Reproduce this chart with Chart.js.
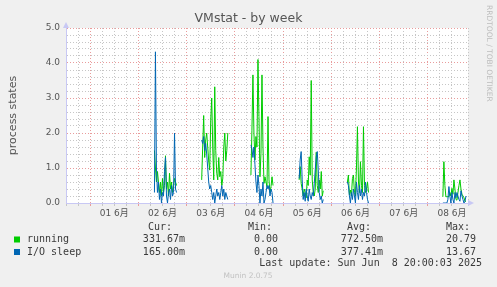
<!DOCTYPE html>
<html>
<head>
<meta charset="utf-8">
<script src="https://cdn.jsdelivr.net/npm/chart.js@4/dist/chart.umd.min.js"></script>
<style>
  html, body { margin: 0; padding: 0; background: #f0f0f0; }
  canvas { display: block; }
</style>
</head>
<body>
<canvas id="chart" width="497" height="287"></canvas>
<script>
// ── DATA ──
// x axis runs in hours counted from 31 May 00:00, one sample every 30 min
const dayLabels = ['01 6月', '02 6月', '03 6月', '04 6月', '05 6月', '06 6月', '07 6月', '08 6月'];
const yLabels = ['0.0', '1.0', '2.0', '3.0', '4.0', '5.0'];
const sampleStep = 0.5;
const burstStart = [56, 79.5, 104, 128, 152, 199.5];

const running = [
  [1.5, 1.0, 0.6, 0.9, 0.6, 0.3, 0.6, 0.2, 0.7, 0.3, 0.5, 1.35, 0.4, 0.6, 0.2, 0.85, 0.4, 0.6, 0.3, 0.5, 0.7, 0.6, 0.5],
  [0.66, 1.6, 2.5, 1.3, 1.8, 2.0, 1.6, 1.2, 0.94, 2.37, 3.0, 1.6, 0.66, 3.32, 1.5, 0.85, 0.66, 1.3, 0.75, 0.9, 0.5, 0.7, 1.6, 2.0, 1.2, 1.5, 2.0],
  [0.8, 2.08, 3.66, 2.0, 1.23, 1.9, 1.6, 4.1, 2.47, 0.75, 1.42, 3.66, 1.6, 0.56, 0.75, 0.6, 0.47, 2.47, 0.66, 0.3, 0.47, 0.75, 0.5],
  [0.66, 1.04, 0.56, 0.4, 0.2, 0.4, 0.3, 0.15, 0.66, 0.5, 1.32, 0.8, 3.5, 0.66, 0.3, 0.2, 0.4, 1.45, 0.5, 0.3, 0.66, 0.4, 0.9, 0.2, 0.35],
  [0.6, 0.8, 0.23, 0.37, 0.2, 0.7, 0.8, 0.3, 0.2, 1.0, 2.18, 0.6, 0.3, 1.18, 0.5, 0.3, 2.18, 0.5, 0.3, 0.4, 0.6, 0.3],
  [0.18, 1.18, 0.5, 0.18, 0.18, 0.18, 0.18, 0.3, 0.2, 0.42, 0.25, 0.66, 0.4, 0.1, 0.08, 0.3, 0.5, 0.66, 0.4, 0.25, 0.2, 0.15, 0.05, 0.05]
];
const ioSleep = [
  [0.3, 4.32, 1.0, 0.3, 0.6, 0.1, 0.4, 0.0, 0.3, 0.2, 0.9, 1.3, 0.2, 0.0, 0.3, 0.4, 0.1, 0.5, 0.2, 0.3, 2.0, 0.4, 0.3],
  [1.8, 1.7, 1.9, 1.5, 1.7, 1.4, 1.0, 0.6, 0.4, 0.5, 0.3, 0.1, 0.3, 0.0, 0.2, 0.4, 0.2, 0.3, 0.1, 0.3, 0.5, 0.2, 0.4, 0.1, 0.3, 0.2, 0.1],
  [1.66, 1.55, 1.3, 1.6, 1.1, 0.6, 0.3, 0.8, 0.5, 0.0, 0.4, 0.2, 0.6, 0.0, 0.1, 0.3, 0.5, 0.4, 0.5, 0.2, 0.4, 0.3, 0.0],
  [0.7, 1.23, 1.47, 0.68, 0.1, 0.3, 0.05, 0.4, 0.2, 0.05, 0.4, 0.2, 0.1, 0.3, 0.2, 0.55, 0.95, 1.32, 1.47, 0.95, 0.3, 0.1, 0.2, 0.0, 0.1],
  [0.6, 0.5, 0.2, 0.0, 0.3, 0.1, 0.4, 0.2, 0.0, 0.6, 0.3, 0.1, 0.5, 0.2, 0.4, 0.1, 0.3, 0.2, 0.6, 0.3, 0.1, 0.0],
  [0.0, 0.0, 0.0, 0.0, 0.0, 0.1, 0.47, 0.2, 0.0, 0.3, 0.1, 0.0, 0.3, 0.15, 0.3, 0.2, 0.1, 0.05, 0.35, 0.2, 0.1, 0.0, 0.05, 0.2]
];

// legend table
const chartTitle = 'VMstat - by week';
const seriesNames = ['running', 'I/O sleep'];
const seriesColors = ['#00cc00', '#0066b3'];
const curValues = ['331.67m', '165.00m'];
const minValues = ['0.00', '0.00'];
const avgValues = ['772.50m', '377.41m'];
const maxValues = ['20.79', '13.67'];
const lastUpdate = 'Last update: Sun Jun  8 20:00:03 2025';

// ── HELPERS ──
function toPoints(bursts) {
  const pts = [];
  bursts.forEach((vals, b) => {
    vals.forEach((v, i) => pts.push({ x: burstStart[b] + i * sampleStep, y: v }));
    pts.push({ x: burstStart[b] + vals.length * sampleStep, y: null }); // gap
  });
  return pts;
}

const SANS = '"DejaVu Sans", "Noto Sans CJK JP", sans-serif';
const MONO = '"DejaVu Sans Mono", monospace';
const RED_GRID = '#e99c9c';
const GRAY_GRID = '#c6c6c6';
const AXIS = '#c8c8f4';

// ── PLUGINS ──
const muninFrame = {
  id: 'muninFrame',
  beforeDraw(chart) {
    const { ctx, chartArea: a } = chart;
    ctx.save();
    ctx.fillStyle = '#f0f0f0';
    ctx.fillRect(0, 0, chart.width, chart.height);
    ctx.fillStyle = '#ffffff';
    ctx.fillRect(a.left, a.top, a.right - a.left, a.bottom - a.top);
    ctx.restore();
  },
  afterDraw(chart) {
    const { ctx, chartArea: a } = chart;
    ctx.save();
    // title, centred on the whole image
    ctx.font = '12.5px ' + SANS;
    ctx.fillStyle = '#555';
    ctx.textAlign = 'center';
    ctx.textBaseline = 'middle';
    ctx.fillText(chartTitle, 248.5, 19);

    // axis arrows
    ctx.fillStyle = AXIS;
    ctx.beginPath();
    ctx.moveTo(a.left - 3, a.top); ctx.lineTo(a.left + 3, a.top); ctx.lineTo(a.left, a.top - 6);
    ctx.fill();
    ctx.beginPath();
    ctx.moveTo(a.right, a.bottom - 3); ctx.lineTo(a.right, a.bottom + 3); ctx.lineTo(a.right + 6, a.bottom);
    ctx.fill();

    // side watermark
    ctx.save();
    ctx.translate(489, 5);
    ctx.rotate(Math.PI / 2);
    ctx.font = '7.5px ' + SANS;
    ctx.fillStyle = '#bdbdbd';
    ctx.textAlign = 'left';
    ctx.fillText('RRDTOOL / TOBI OETIKER', 0, 0);
    ctx.restore();

    // legend table
    ctx.font = '10px ' + MONO;
    ctx.fillStyle = '#3a3a3a';
    ctx.textAlign = 'right';
    ctx.fillText('Cur:', 172, 227);
    ctx.fillText('Min:', 272, 227);
    ctx.fillText('Avg:', 371, 227);
    ctx.fillText('Max:', 470, 227);
    seriesNames.forEach((name, i) => {
      const y = 239.5 + i * 12.5;
      ctx.fillStyle = seriesColors[i];
      ctx.fillRect(14, y - 3, 6, 6);
      ctx.fillStyle = '#3a3a3a';
      ctx.textAlign = 'left';
      ctx.fillText(name, 27, y);
      ctx.textAlign = 'right';
      ctx.fillText(curValues[i], 185, y);
      ctx.fillText(minValues[i], 278, y);
      ctx.fillText(avgValues[i], 383, y);
      ctx.fillText(maxValues[i], 476, y);
    });
    ctx.fillText(lastUpdate, 482, 263.5);

    ctx.font = '7.5px ' + SANS;
    ctx.fillStyle = '#c2c2c2';
    ctx.textAlign = 'center';
    ctx.fillText('Munin 2.0.75', 248, 276);
    ctx.restore();
  }
};

// ── CHART ──
const ctx = document.getElementById('chart').getContext('2d');
new Chart(ctx, {
  type: 'line',
  data: {
    datasets: [
      { label: seriesNames[0], data: toPoints(running), borderColor: seriesColors[0],
        borderWidth: 1, pointRadius: 0, tension: 0, spanGaps: false, order: 1 },
      { label: seriesNames[1], data: toPoints(ioSleep), borderColor: seriesColors[1],
        borderWidth: 1, pointRadius: 0, tension: 0, spanGaps: false, order: 0 }
    ]
  },
  options: {
    responsive: false,
    animation: false,
    events: [],
    layout: { padding: { left: 0, right: 29, top: 28, bottom: 64 } },
    plugins: {
      legend: { display: false },
      tooltip: { enabled: false },
      title: { display: false }
    },
    scales: {
      x: {
        type: 'linear',
        min: 12,
        max: 212,
        afterFit: s => { s.height = 20; },
        grid: {
          color: c => (c.tick && c.tick.value % 24 === 0) ? RED_GRID : GRAY_GRID,
          drawTicks: true,
          tickLength: 3
        },
        border: { color: AXIS, dash: [1, 2] },
        ticks: {
          stepSize: 6,
          autoSkip: false,
          maxRotation: 0,
          padding: 2,
          color: '#555',
          font: { family: SANS, size: 9 },
          callback: v => (v % 24 === 12 && v > 12) ? dayLabels[(v - 36) / 24] : ''
        }
      },
      y: {
        min: 0,
        max: 5,
        afterFit: s => { s.width = 66; },
        grid: {
          color: c => (c.tick && Number.isInteger(c.tick.value)) ? RED_GRID : GRAY_GRID,
          drawTicks: false
        },
        border: { color: AXIS, dash: [1, 2] },
        ticks: {
          stepSize: 0.2,
          autoSkip: false,
          maxTicksLimit: 100,
          padding: 6,
          color: '#555',
          font: { family: SANS, size: 9 },
          callback: v => Number.isInteger(v) ? yLabels[v] : ''
        },
        title: {
          display: true,
          text: 'process states',
          color: '#555',
          font: { family: SANS, size: 11 },
          padding: { top: 6.5, bottom: 0 }
        }
      }
    }
  },
  plugins: [muninFrame]
});
</script>
</body>
</html>
